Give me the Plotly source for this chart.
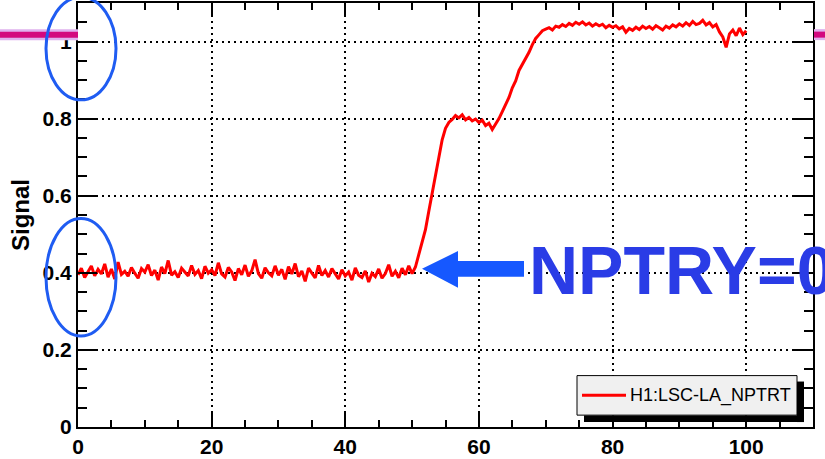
import plotly.graph_objects as go

# ---------------- data ----------------
time_step = 0.5
signal = [
    0.395, 0.412, 0.388, 0.405, 0.418, 0.392, 0.409, 0.397, 0.423, 0.389,
    0.410, 0.384, 0.428, 0.396, 0.404, 0.391, 0.414, 0.399, 0.386, 0.411,
    0.402, 0.421, 0.393, 0.407, 0.381, 0.415, 0.398, 0.432, 0.394, 0.403,
    0.388, 0.412, 0.401, 0.392, 0.419, 0.396, 0.406, 0.385, 0.417, 0.399,
    0.408, 0.393, 0.426, 0.397, 0.389, 0.414, 0.402, 0.380, 0.411, 0.395,
    0.420, 0.391, 0.405, 0.434, 0.398, 0.386, 0.413, 0.400, 0.392, 0.418,
    0.394, 0.409, 0.383, 0.416, 0.397, 0.424, 0.390, 0.405, 0.378, 0.412,
    0.399, 0.387, 0.419, 0.393, 0.406, 0.389, 0.411, 0.396, 0.384, 0.408,
    0.392, 0.402, 0.381, 0.413, 0.394, 0.388, 0.405, 0.376, 0.399, 0.390,
    0.410, 0.386, 0.398, 0.421, 0.391, 0.404, 0.387, 0.412, 0.395, 0.418,
    0.398, 0.415, 0.445, 0.478, 0.512, 0.560, 0.605, 0.655, 0.705, 0.745,
    0.775, 0.790, 0.798, 0.808, 0.802, 0.810, 0.797, 0.803, 0.794, 0.799,
    0.790, 0.796, 0.782, 0.788, 0.772, 0.785, 0.800, 0.818, 0.835, 0.855,
    0.880, 0.898, 0.925, 0.940, 0.958, 0.972, 0.992, 1.008, 1.018, 1.028,
    1.032, 1.036, 1.030, 1.040, 1.037, 1.044, 1.039, 1.047, 1.042, 1.050,
    1.045, 1.051, 1.043, 1.048, 1.040, 1.046, 1.041, 1.045, 1.036, 1.042,
    1.037, 1.041, 1.033, 1.038, 1.024, 1.034, 1.029, 1.037, 1.031, 1.040,
    1.034, 1.039, 1.032, 1.041, 1.036, 1.030, 1.040, 1.035, 1.043, 1.038,
    1.046, 1.040, 1.049, 1.042, 1.052, 1.044, 1.047, 1.055, 1.043, 1.049,
    1.038, 1.044, 1.025, 1.012, 0.985, 1.020, 1.030, 1.015, 1.035, 1.018,
    1.028,
]
time = [i * time_step for i in range(len(signal))]

series_name = "H1:LSC-LA_NPTRT"
x_ticks = [0, 20, 40, 60, 80, 100]
y_ticks = [0, 0.2, 0.4, 0.6, 0.8, 1]
y_tick_labels = ["0", "0.2", "0.4", "0.6", "0.8", "1"]
annotation_text = "NPTRY=0"
y_title = "Signal"

# ---------------- layout helpers (pixel -> paper) ----------------
W, H = 825, 459
ML, MR, MT, MB = 78, 12, 1, 29
PW, PH = W - ML - MR, H - MT - MB


def px(x):
    return (x - ML) / PW


def py(y):
    return (H - MB - y) / PH


FONT = "Liberation Sans, Arial, Helvetica, sans-serif"

fig = go.Figure()
fig.add_trace(go.Scatter(
    x=time, y=signal, mode="lines", name=series_name,
    line=dict(color="#ff0000", width=3), showlegend=False,
))

shapes = []
# pink horizontal line behind the frame (visible outside plot area)
for (a, b) in [(0, ML), (ML + PW + 1, W)]:
    shapes.append(dict(type="line", xref="paper", yref="paper",
                       x0=px(a), x1=px(b), y0=py(33), y1=py(33),
                       line=dict(color="#dfb0ee", width=11)))
    shapes.append(dict(type="line", xref="paper", yref="paper",
                       x0=px(a), x1=px(b), y0=py(33), y1=py(33),
                       line=dict(color="#d3087f", width=6)))

# blue ellipses
for (top, bot) in [(-5, 99), (219, 338)]:
    shapes.append(dict(type="circle", xref="paper", yref="paper",
                       x0=px(46), x1=px(116), y0=py(bot), y1=py(top),
                       line=dict(color="#1f5cf2", width=3)))

# blue arrow
pts = [(422, 270), (458, 252), (458, 262), (524, 262),
       (524, 278), (458, 278), (458, 289)]
path = "M " + " L ".join(f"{px(a):.5f},{py(b):.5f}" for a, b in pts) + " Z"
shapes.append(dict(type="path", xref="paper", yref="paper", path=path,
                   fillcolor="#1658ff", line=dict(width=0)))

# legend: drop shadow (strips right & bottom), box, line sample
shapes.append(dict(type="rect", xref="paper", yref="paper",
                   x0=px(797), x1=px(804), y0=py(425), y1=py(384),
                   fillcolor="#000000", line=dict(color="#000000", width=0)))
shapes.append(dict(type="rect", xref="paper", yref="paper",
                   x0=px(584), x1=px(804), y0=py(425), y1=py(418),
                   fillcolor="#000000", line=dict(color="#000000", width=0)))
shapes.append(dict(type="rect", xref="paper", yref="paper",
                   x0=px(577), x1=px(797), y0=py(418), y1=py(378),
                   fillcolor="#f0f0f0", line=dict(color="#000000", width=1)))
shapes.append(dict(type="line", xref="paper", yref="paper",
                   x0=px(582), x1=px(626), y0=py(398), y1=py(398),
                   line=dict(color="#ff0000", width=3)))

annotations = [
    dict(text=annotation_text, xref="paper", yref="paper",
         x=px(527), y=py(271), xanchor="left", yanchor="middle",
         showarrow=False,
         font=dict(family=FONT, size=68, color="#2a3ce6", weight="bold")),
    dict(text=series_name, xref="paper", yref="paper",
         x=px(628), y=py(398), xanchor="left", yanchor="middle",
         showarrow=False,
         font=dict(family=FONT, size=18, color="black")),
]

fig.update_layout(
    width=W, height=H,
    margin=dict(l=ML, r=MR, t=MT, b=MB, pad=0),
    paper_bgcolor="white", plot_bgcolor="white",
    shapes=shapes, annotations=annotations,
    font=dict(family=FONT, color="black"),
)

axis_common = dict(
    ticks="inside", tickcolor="black", tickwidth=1.5,
    showline=True, linewidth=2, linecolor="black", mirror="allticks",
    showgrid=True, gridcolor="black", gridwidth=1.5, griddash="2px,4px",
    zeroline=False,
    tickfont=dict(family=FONT, size=21, color="black", weight="bold"),
)

fig.update_xaxes(range=[0, 110], tickvals=x_ticks, ticklen=14,
                 minor=dict(dtick=5, tick0=0, ticks="inside", ticklen=7,
                            tickcolor="black", tickwidth=1.5, showgrid=False),
                 **axis_common)
fig.update_yaxes(range=[0, 1.1], tickvals=y_ticks, ticktext=y_tick_labels,
                 ticklen=19,
                 minor=dict(dtick=0.05, tick0=0, ticks="inside", ticklen=9,
                            tickcolor="black", tickwidth=1.5, showgrid=False),
                 title=dict(text=y_title, standoff=6,
                            font=dict(family=FONT, size=24, color="black",
                                      weight="bold")),
                 **axis_common)

fig.write_html("out.html")
